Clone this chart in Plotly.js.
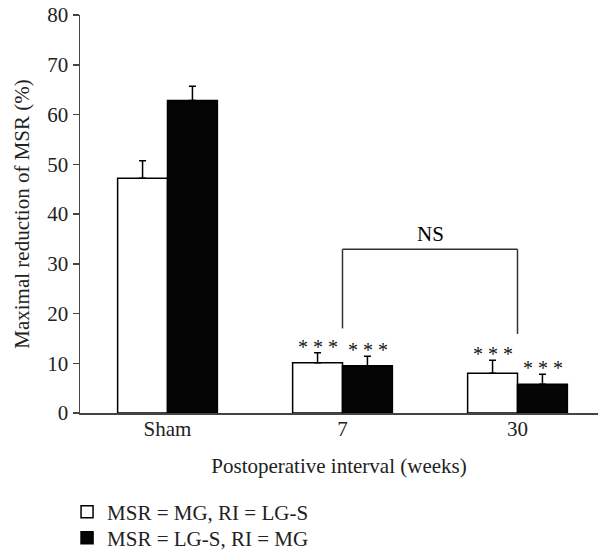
<!DOCTYPE html>
<html>
<head>
<meta charset="utf-8">
<script src="https://cdn.plot.ly/plotly-3.0.1.min.js"></script>
<style>html,body{margin:0;padding:0;background:#fff;}</style>
</head>
<body>
<div id="chart" style="width:599px;height:550px;"></div>
<script>
// Data
var categories = ["Sham", "7", "30"];
var seriesNames = ["MSR = MG, RI = LG-S", "MSR = LG-S, RI = MG"];
var whiteValues = [47.2, 10.1, 8.0];
var whiteErrors = [3.5, 2.0, 2.6];
var blackValues = [62.8, 9.5, 5.8];
var blackErrors = [2.9, 1.9, 2.0];
var whiteStars = ["", "***", "***"];
var blackStars = ["", "***", "***"];
var bracketLabel = "NS";
var bracketFrom = "7", bracketTo = "30";
var bracketTop = 32.9, bracketLeftBottom = 17.0, bracketRightBottom = 15.9;
var yTicks = [0, 10, 20, 30, 40, 50, 60, 70, 80];

var FONT = "Liberation Serif, Times New Roman, serif";
var FS = 21;
var zeros = categories.map(function(){return 0;});

var traces = [
  {
    type: "bar", name: seriesNames[0], x: categories, y: whiteValues, legend: "legend",
    marker: {color: "#ffffff", line: {color: "#000000", width: 1.5}},
    error_y: {type: "data", array: whiteErrors, arrayminus: zeros, symmetric: false,
              color: "#000000", thickness: 1.5, width: 3.5}
  },
  {
    type: "bar", name: seriesNames[1], x: categories, y: blackValues, legend: "legend2",
    marker: {color: "#050505", line: {color: "#000000", width: 1.5}},
    error_y: {type: "data", array: blackErrors, arrayminus: zeros, symmetric: false,
              color: "#000000", thickness: 1.5, width: 3.5}
  }
];

var annotations = [];
function starText(s){ return s.split("").join(" "); }
categories.forEach(function(c, i){
  if (whiteStars[i]) annotations.push({
    x: i, y: whiteValues[i] + whiteErrors[i], xref: "x", yref: "y",
    text: starText(whiteStars[i]), showarrow: false, xshift: -25, yanchor: "bottom", yshift: -7,
    font: {family: FONT, size: 20, color: "#111"}
  });
  if (blackStars[i]) annotations.push({
    x: i, y: blackValues[i] + blackErrors[i], xref: "x", yref: "y",
    text: starText(blackStars[i]), showarrow: false, xshift: 25, yanchor: "bottom", yshift: -7,
    font: {family: FONT, size: 20, color: "#111"}
  });
});
var iFrom = categories.indexOf(bracketFrom), iTo = categories.indexOf(bracketTo);
annotations.push({
  x: (iFrom + iTo) / 2, y: bracketTop, xref: "x", yref: "y", text: bracketLabel,
  showarrow: false, yanchor: "bottom", yshift: 1,
  font: {family: FONT, size: FS, color: "#000"}
});

var shapes = [
  {type: "line", xref: "x", yref: "y", x0: iFrom, x1: iFrom, y0: bracketLeftBottom, y1: bracketTop,
   line: {color: "#333", width: 1.5}},
  {type: "line", xref: "x", yref: "y", x0: iFrom, x1: iTo, y0: bracketTop, y1: bracketTop,
   line: {color: "#333", width: 1.5}},
  {type: "line", xref: "x", yref: "y", x0: iTo, x1: iTo, y0: bracketRightBottom, y1: bracketTop,
   line: {color: "#333", width: 1.5}}
];

var legendCommon = {
  xref: "paper", yref: "paper", x: -0.025, xanchor: "left", yanchor: "middle",
  orientation: "v", bgcolor: "rgba(0,0,0,0)",
  font: {family: FONT, size: FS, color: "#222"}
};

var layout = {
  width: 599, height: 550,
  margin: {l: 80, r: 1, t: 15, b: 137, autoexpand: false},
  paper_bgcolor: "#fff", plot_bgcolor: "#fff",
  font: {family: FONT, size: FS, color: "#222"},
  barmode: "group", bargap: 0.43, bargroupgap: 0,
  showlegend: true,
  legend: Object.assign({}, legendCommon, {y: -0.2487}),
  legend2: Object.assign({}, legendCommon, {y: -0.3146}),
  xaxis: {
    type: "category", range: [-0.5, 2.46], showgrid: false, zeroline: false,
    showline: true, linecolor: "#444", linewidth: 1.5, ticks: "",
    ticklabelstandoff: -4,
    tickfont: {family: FONT, size: FS, color: "#222"},
    title: {text: "Postoperative interval (weeks)", font: {family: FONT, size: FS, color: "#222"}, standoff: 18}
  },
  yaxis: {
    range: [0, 80], tickvals: yTicks, showgrid: false, zeroline: false,
    showline: true, linecolor: "#444", linewidth: 1.5,
    ticks: "outside", ticklen: 6, tickwidth: 1.5, tickcolor: "#444",
    tickfont: {family: FONT, size: FS, color: "#222"},
    title: {text: "Maximal reduction of MSR (%)", font: {family: FONT, size: FS, color: "#222"}, standoff: 12}
  },
  annotations: annotations,
  shapes: shapes
};

Plotly.newPlot("chart", traces, layout, {displayModeBar: false, staticPlot: true});
</script>
</body>
</html>
